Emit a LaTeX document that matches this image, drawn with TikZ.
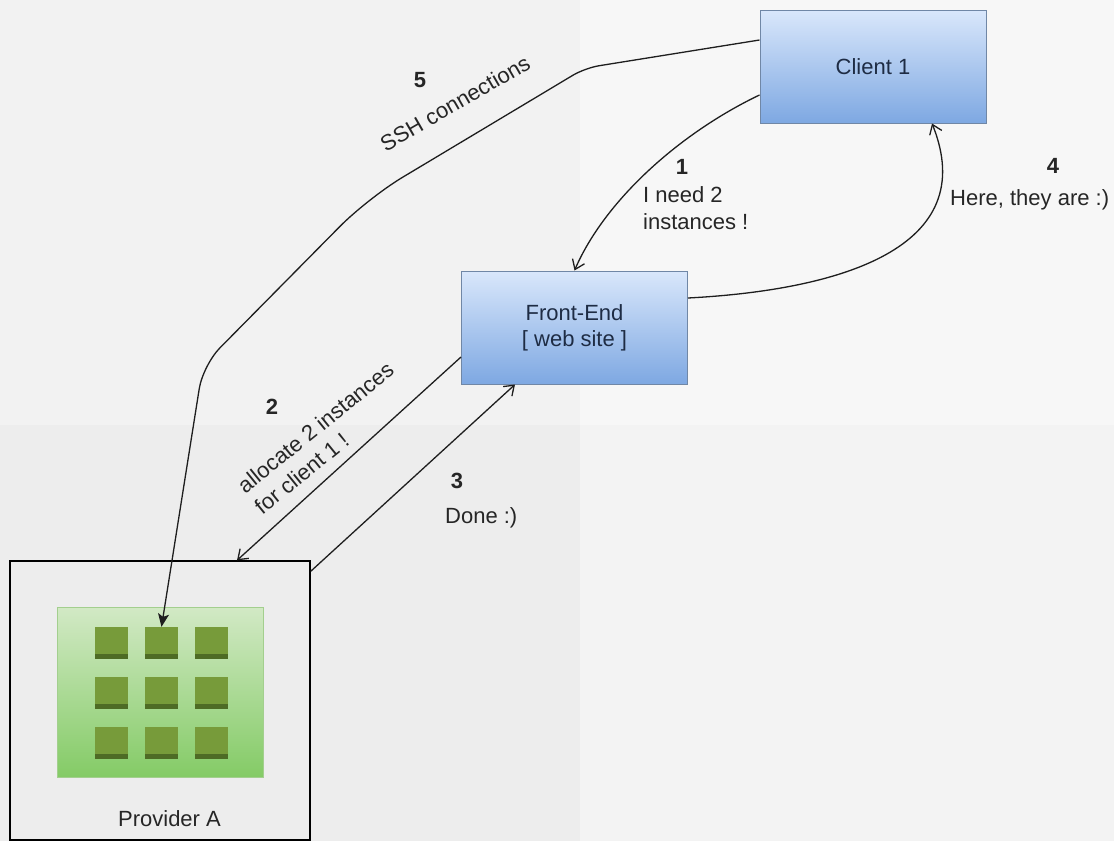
\documentclass[tikz,border=0pt]{standalone}
\usepackage{fontspec}
\setmainfont{Liberation Sans}
\usetikzlibrary{arrows.meta,calc}
\definecolor{bgTL}{HTML}{F2F2F2}
\definecolor{bgTR}{HTML}{F7F7F7}
\definecolor{bgBL}{HTML}{EDEDED}
\definecolor{bgBR}{HTML}{F3F3F3}
\definecolor{blueTop}{HTML}{D9E7FB}
\definecolor{blueBot}{HTML}{7EA8E2}
\definecolor{blueLine}{HTML}{7087A6}
\definecolor{blueText}{HTML}{1E2C44}
\definecolor{greenTop}{HTML}{D2E9C5}
\definecolor{greenBot}{HTML}{84CB66}
\definecolor{greenLine}{HTML}{A3CF8E}
\definecolor{sqFill}{HTML}{779B3A}
\definecolor{sqDark}{HTML}{4E6B25}
\definecolor{lineC}{HTML}{1E1E1E}
\definecolor{txtC}{HTML}{262626}
\begin{document}
\begin{tikzpicture}[x=1pt,y=-1pt,
  txt/.style={font=\fontsize{22}{27}\selectfont, text=txtC, inner sep=0pt},
  num/.style={font=\fontsize{22}{26}\selectfont\bfseries, text=txtC, inner sep=0pt},
  bluebox/.style={draw=blueLine, line width=1pt, top color=blueTop, bottom color=blueBot,
    minimum width=226pt, minimum height=113pt, inner sep=0pt, align=center,
    font=\fontsize{22}{26}\selectfont, text=blueText},
  conn/.style={line width=1.3pt, draw=lineC},
  openarr/.style={-{Straight Barb[length=9pt,width=13pt,line width=1.3pt]}},
  fillarr/.style={-{Stealth[length=13pt,width=11pt,inset=3pt]}},
  sq/.style={fill=sqFill, minimum width=33pt, minimum height=32pt, inner sep=0pt}
]
\useasboundingbox (0,0) rectangle (1114,841);
% background (folded paper look)
\fill[bgTL] (0,0) rectangle (580,425);
\fill[bgTR] (580,0) rectangle (1114,425);
\fill[bgBL] (0,425) rectangle (580,841);
\fill[bgBR] (580,425) rectangle (1114,841);

% nodes
\node[bluebox] (c1) at (873,66.5) {Client 1};
\node[bluebox] (fe) at (574.5,327.5) {Front-End\\{[} web site {]}};
\node[draw=black, line width=1.3pt, fill=bgBL, minimum width=300pt, minimum height=279pt, inner sep=0pt] (prov) at (160,700.5) {};
\node[draw=greenLine, line width=0.8pt, top color=greenTop, bottom color=greenBot, minimum width=206pt, minimum height=170pt, inner sep=0pt] (grid) at (160,692) {};
\foreach \i in {0,1,2}{
  \foreach \j in {0,1,2}{
    \node[sq] (s\i\j) at ({111.5+50*\j},{643+50*\i}) {};
    \fill[sqDark] (s\i\j.south west) rectangle ([yshift=5pt]s\i\j.south east);
  }
}
\node[txt, anchor=base, text=txtC] (provlbl) at (169.5,826) {Provider A};

% connectors
\coordinate (w1) at (585,68);
\coordinate (w2) at (368,198);
\coordinate (w3) at (203,365);
\draw[conn, fillarr] ([yshift=26.5pt]c1.west) [rounded corners=14pt] -- (w1) [rounded corners=40pt] -- (w2) [rounded corners=24pt] -- (w3) -- (s01.north);

\draw[conn, openarr] ([yshift=-28.5pt]c1.west) .. controls (680,133) and (605,200) .. (fe.north);
\draw[conn, openarr] ([yshift=-29.5pt]fe.west) -- ([xshift=77pt]prov.north);
\draw[conn, openarr] ([yshift=-11pt]prov.north east) -- ([xshift=-59.5pt]fe.south);
\draw[conn, openarr] ([yshift=29.5pt]fe.east) .. controls (840,290) and (982,248) .. ([xshift=59pt]c1.south);

% labels
\node[num] (n1) at (682,167) {1};
\node[txt, anchor=north west, align=left] (l1) at (643,186) {I need 2\\instances !};
\node[num] (n4) at (1053,166) {4};
\node[txt, anchor=base west] (l4) at (950,205) {Here, they are :)};
\node[num] (n3) at (457,481) {3};
\node[txt, anchor=base west] (l3) at (445,523) {Done :)};
\node[num] (n2) at (272,407) {2};
\node[txt, align=left, rotate=39] (l2) at (324,438) {allocate 2 instances\\for client 1 !};
\node[num] (n5) at (420,80) {5};
\node[txt, rotate=30] (l5) at (455,103) {SSH connections};
\end{tikzpicture}
\end{document}
